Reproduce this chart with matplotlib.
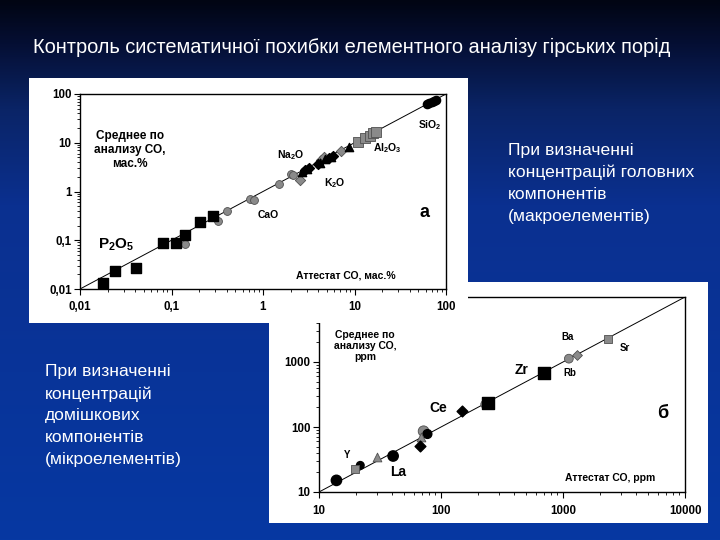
import numpy as np
import matplotlib
matplotlib.use('Agg')
import matplotlib.pyplot as plt
from matplotlib.patches import Rectangle
from matplotlib.colors import LinearSegmentedColormap
from matplotlib import font_manager, rcParams

# fonts: Arial-like for slide and chart, narrow one for the title
names = {f.name for f in font_manager.fontManager.ttflist}
sans = 'Liberation Sans' if 'Liberation Sans' in names else 'DejaVu Sans'
narrow = 'Liberation Sans Narrow' if 'Liberation Sans Narrow' in names else sans
rcParams['font.family'] = [sans, 'DejaVu Sans']
rcParams['mathtext.fontset'] = 'custom'
rcParams['mathtext.rm'] = sans + ':bold'
rcParams['mathtext.it'] = sans + ':bold'
rcParams['mathtext.bf'] = sans + ':bold'
rcParams['mathtext.default'] = 'rm'

# ---- panel a data (major elements, wt.%) ----
p2o5_x = [0.018, 0.024, 0.041, 0.080, 0.113, 0.142, 0.204, 0.285]
p2o5_y = [0.013, 0.023, 0.027, 0.088, 0.088, 0.129, 0.234, 0.321]
cao_x = [0.14, 0.32, 0.40, 0.73, 0.80, 1.48, 2.04, 2.15]
cao_y = [0.084, 0.25, 0.39, 0.71, 0.68, 1.41, 2.25, 2.15]
k2o_x = [2.51, 4.33, 4.6, 7.16]
k2o_y = [1.74, 4.47, 5.0, 6.85]
tri_x = [2.7, 3.0, 4.2, 4.8, 5.5, 8.8]
tri_y = [2.5, 2.9, 3.9, 4.6, 5.2, 8.2]
dia_x = [2.9, 3.2, 4.0, 5.2, 5.8]
dia_y = [2.7, 3.1, 3.7, 4.8, 5.3]
al2o3_x = [10.9, 12.9, 14.6, 16.0, 17.0]
al2o3_y = [10.3, 12.5, 13.5, 15.5, 17.0]
sio2_x = [62, 66, 70, 74, 78]
sio2_y = [62, 65, 69, 73, 76]
a_ticks = [0.01, 0.1, 1, 10, 100]
a_ticklabels = ['0,01', '0,1', '1', '10', '100']

# ---- panel b data (trace elements, ppm) ----
b_circ_x = [13.9, 21.8, 40.5, 77.4]
b_circ_y = [15.1, 25.7, 35.8, 78]
b_circ_s = [55, 30, 55, 40]
b_gsq_x = [19.6, 2349]
b_gsq_y = [22.9, 2285]
b_gtri_x = [29.9, 69]
b_gtri_y = [34.5, 70]
b_dia_x = [67, 149]
b_dia_y = [51, 174]
b_gcirc_x = [72, 229, 1117]
b_gcirc_y = [86, 223, 1125]
b_gcirc_s = [60, 35, 40]
b_sq_x = [243, 701]
b_sq_y = [234, 685]
b_gdia_x = [1308]
b_gdia_y = [1267]
b_xticks = [10, 100, 1000, 10000]
b_yticks = [10, 100, 1000, 10000]

title = 'Контроль систематичної похибки елементного аналізу гірських порід'
text_macro = 'При визначенні\nконцентрацій головних\nкомпонентів\n(макроелементів)'
text_micro = 'При визначенні\nконцентрацій\nдомішкових\nкомпонентів\n(мікроелементів)'

gray = '#8a8a8a'
edge = '#505050'

fig = plt.figure(figsize=(7.2, 5.4), dpi=100)

# slide background gradient
bg = fig.add_axes([0, 0, 1, 1], zorder=0)
cmap = LinearSegmentedColormap.from_list('slide', [
    (0.0, '#010513'), (0.08, '#050f34'), (0.2, '#0a2466'),
    (0.38, '#0b3090'), (1.0, '#0638a2')])
bg.imshow(np.linspace(0, 1, 256)[:, None], aspect='auto', cmap=cmap,
          extent=[0, 1, 0, 1], origin='upper')
bg.set_axis_off()

fig.text(33 / 720, 1 - 47 / 540, title, color='white', fontsize=14.4,
         family=[narrow, 'DejaVu Sans'], va='center', ha='left')
fig.text(508 / 720, 1 - 143 / 540, text_macro, color='white', fontsize=12.6,
         va='top', ha='left', linespacing=1.56)
fig.text(45 / 720, 1 - 364 / 540, text_micro, color='white', fontsize=12.6,
         va='top', ha='left', linespacing=1.56)


def style_axes(ax, ticks, labels, xticks=None, xlabels=None):
    ax.set_xscale('log')
    ax.set_yscale('log')
    for s in ax.spines.values():
        s.set_linewidth(1.0)
        s.set_color('black')
    ax.tick_params(which='major', length=4, width=0.8, direction='out', pad=2,
                   labelsize=8.3)
    ax.tick_params(which='minor', length=2.5, width=0.6, direction='out')
    ax.set_yticks(ticks)
    ax.set_yticklabels(labels, fontweight='bold')
    ax.set_xticks(xticks if xticks is not None else ticks)
    ax.set_xticklabels(xlabels if xlabels is not None else labels, fontweight='bold')
    ax.tick_params(axis='x', pad=5)


# ---- panel b (drawn below panel a) ----
fig.add_artist(Rectangle((269 / 720, 1 - 523 / 540), 439 / 720, 241 / 540,
                         transform=fig.transFigure, facecolor='white',
                         edgecolor='none', zorder=1))
axb = fig.add_axes([319 / 720, 1 - 492 / 540, 366 / 720, 195 / 540], zorder=2)
axb.set_facecolor('white')
axb.plot([10, 10000], [10, 10000], color='black', lw=0.7, zorder=1)
axb.scatter(b_circ_x, b_circ_y, s=b_circ_s, marker='o', color='black', zorder=3)
axb.scatter(b_gsq_x, b_gsq_y, s=40, marker='s', color=gray, edgecolors=edge, linewidths=0.6, zorder=3)
axb.scatter(b_gtri_x, b_gtri_y, s=40, marker='^', color=gray, edgecolors=edge, linewidths=0.6, zorder=3)
axb.scatter(b_dia_x, b_dia_y, s=30, marker='D', color='black', zorder=3)
axb.scatter(b_gcirc_x, b_gcirc_y, s=b_gcirc_s, marker='o', color=gray, edgecolors=edge, linewidths=0.6, zorder=2)
axb.scatter(b_sq_x, b_sq_y, s=70, marker='s', color='black', zorder=3)
axb.scatter(b_gdia_x, b_gdia_y, s=25, marker='D', color=gray, edgecolors=edge, linewidths=0.6, zorder=3)
axb.set_xlim(10, 10000)
axb.set_ylim(10, 10000)
style_axes(axb, b_yticks, [str(t) for t in b_yticks],
           b_xticks, [str(t) for t in b_xticks])

def lab(ax, x, y, s, size=7.5, **kw):
    # label placed in pixel coordinates of the slide
    ax.text(x / 720, 1 - y / 540, s, transform=fig.transFigure, fontsize=size,
            fontweight='bold', ha='center', va='center', **kw)

lab(axb, 365, 346, 'Среднее по\nанализу СО,\nppm', linespacing=1.15)
lab(axb, 347, 455, 'Y', 7)
lab(axb, 398, 472, 'La', 10)
lab(axb, 438, 408, 'Ce', 10)
lab(axb, 522, 370, 'Zr', 10)
lab(axb, 568, 337, 'Ba', 7)
lab(axb, 570, 373, 'Rb', 7)
lab(axb, 625, 348, 'Sr', 7)
lab(axb, 663, 413, 'б', 13)
lab(axb, 610, 478, 'Аттестат СО, ppm', 7.5)

# ---- panel a (on top) ----
fig.add_artist(Rectangle((29 / 720, 1 - 323 / 540), 439 / 720, 245 / 540,
                         transform=fig.transFigure, facecolor='white',
                         edgecolor='none', zorder=3))
axa = fig.add_axes([80 / 720, 1 - 289 / 540, 366 / 720, 195 / 540], zorder=4)
axa.set_facecolor('white')
axa.plot([0.01, 100], [0.01, 100], color='black', lw=0.7, zorder=1)
axa.scatter(cao_x, cao_y, s=32, marker='o', color=gray, edgecolors=edge, linewidths=0.6, zorder=2)
axa.scatter(p2o5_x, p2o5_y, s=60, marker='s', color='black', zorder=3)
axa.scatter(k2o_x, k2o_y, s=28, marker='D', color=gray, edgecolors=edge, linewidths=0.6, zorder=3)
axa.scatter(tri_x, tri_y, s=35, marker='^', color='black', zorder=3)
axa.scatter(dia_x, dia_y, s=25, marker='D', color='black', zorder=3)
axa.scatter(al2o3_x, al2o3_y, s=45, marker='s', color=gray, edgecolors=edge, linewidths=0.6, zorder=3)
axa.scatter(sio2_x, sio2_y, s=35, marker='o', color='black', zorder=3)
axa.set_xlim(0.01, 100)
axa.set_ylim(0.01, 100)
style_axes(axa, a_ticks, a_ticklabels)

lab(axa, 130, 150, 'Среднее по\nанализу СО,\nмас.%', 8.5, linespacing=1.2)
lab(axa, 291, 155, 'Na$_2$O', 7.5)
lab(axa, 387, 148, 'Al$_2$O$_3$', 7.5)
lab(axa, 430, 125, 'SiO$_2$', 7.5)
lab(axa, 335, 183, 'K$_2$O', 7.5)
lab(axa, 268, 215, 'CaO', 7.5)
lab(axa, 425, 213, 'а', 13)
lab(axa, 116, 245, 'P$_2$O$_5$', 11)
lab(axa, 346, 275, 'Аттестат СО, мас.%', 7.5)

fig.savefig('out.png', dpi=100)
